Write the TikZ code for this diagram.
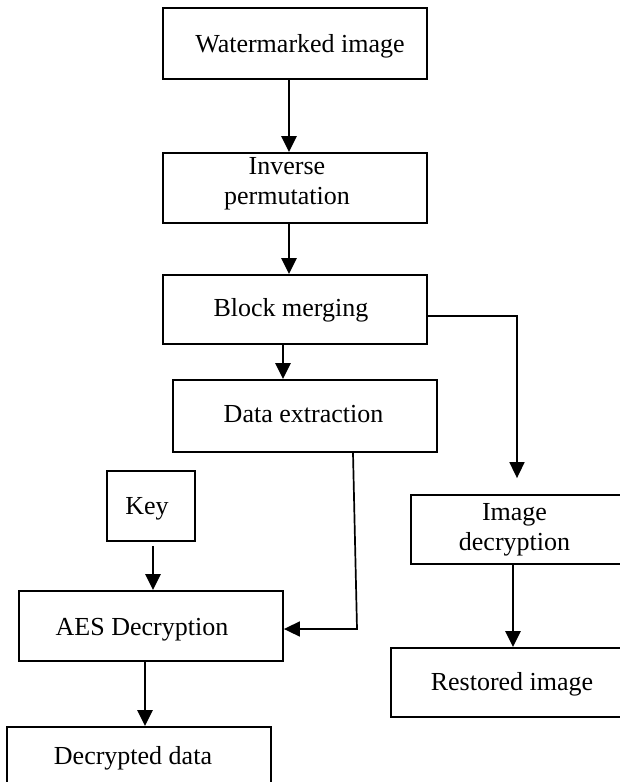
\documentclass[tikz,border=0pt]{standalone}
\usepackage{fontspec}
\setmainfont{Liberation Serif}
\usetikzlibrary{arrows.meta}
\begin{document}
\begin{tikzpicture}[x=1pt,y=-1pt,
  box/.style={draw, line width=1.8pt, inner sep=0pt, minimum height=70pt},
  txt/.style={anchor=base, inner sep=0pt, align=center, font=\fontsize{26}{29.5}\selectfont},
  arr/.style={line width=2.4pt, -{Triangle[length=16pt,width=15pt]}},
  thin arr/.style={line width=1.7pt, -{Triangle[length=16pt,width=15pt]}}]
\useasboundingbox (0,0) rectangle (620,782);
\fill[white] (0,0) rectangle (620,782);
\clip (0,0) rectangle (620,782);
% boxes
\node[box, minimum width=264pt, minimum height=71pt] (wm) at (295,43.5) {};
\node[box, minimum width=264pt] (inv) at (295,188) {};
\node[box, minimum width=264pt, minimum height=69pt] (bm) at (295,309.5) {};
\node[box, minimum width=264pt, minimum height=72pt] (de) at (305,416) {};
\node[box, minimum width=88pt] (key) at (151,506) {};
\node[box, minimum width=264pt] (aes) at (151,626) {};
\node[box, minimum width=264pt] (dd) at (139,762) {};
\node[box, minimum width=212pt, minimum height=69pt] (id) at (517,529.5) {};
\node[box, minimum width=244pt, minimum height=69pt] (ri) at (513,682.5) {};
% texts
\node[txt] (twm) at (300,52) {Watermarked image};
\node[txt] (tinv) at (287,204) {Inverse\\permutation};
\node[txt] (tbm) at (291,316) {Block merging};
\node[txt] (tde) at (303.5,422) {Data extraction};
\node[txt] (tkey) at (147,514) {Key};
\node[txt] (taes) at (142,635) {AES Decryption};
\node[txt] (tdd) at (133,764) {Decrypted data};
\node[txt] (tid) at (514.5,550) {Image\\decryption};
\node[txt] (tri) at (512,690) {Restored image};
% connectors
\draw[arr] ([xshift=-6pt]wm.south) -- ([xshift=-6pt]inv.north);
\draw[arr] ([xshift=-6pt]inv.south) -- ([xshift=-6pt]bm.north);
\draw[arr] ([xshift=-12pt]bm.south) -- ([xshift=-22pt]de.north);
\draw[thin arr] ([yshift=-6.5pt]bm.east) -| ([yshift=16pt]id.north);
\coordinate (bend) at (357,629);
\draw[thin arr] ([xshift=48pt]de.south) -- (bend) -- (aes.east |- bend);
\draw[arr] ([xshift=2pt,yshift=-4pt]key.south) -- ([xshift=2pt]aes.north);
\draw[arr] ([xshift=-6pt]aes.south) -- ([xshift=6pt]dd.north);
\draw[arr] ([xshift=-4pt]id.south) -- (ri.north);
\end{tikzpicture}
\end{document}
